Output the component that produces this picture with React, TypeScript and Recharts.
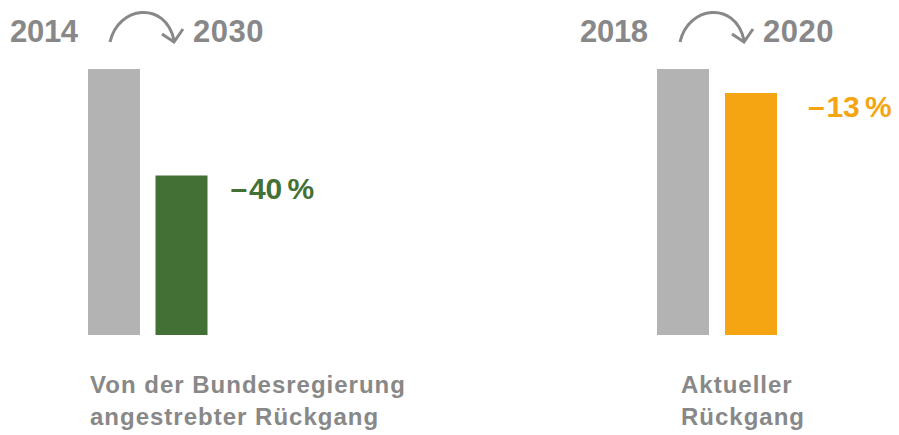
import React from "react";
import { Bar, BarChart, Cell, LabelList, XAxis, YAxis } from "recharts";

// Emissionsrückgang: Ausgangsjahr = 100
const leftYears = ["2014", "2030"];
const leftValues = [100, 60];
const leftChange = ["", "–\u200A40\u2009%"];

const rightYears = ["2018", "2020"];
const rightValues = [100, 91];
const rightChange = ["", "–\u200A13\u2009%"];

const GREY = "#b3b3b3";
const TEXT_GREY = "#888888";
const FONT = "'Liberation Sans', Arial, sans-serif";

function Group({
  years,
  values,
  change,
  color,
  left,
  width,
  labelOffset,
}: {
  years: string[];
  values: number[];
  change: string[];
  color: string;
  left: number;
  width: number;
  labelOffset: number;
}) {
  const rows = years.map((y, i) => ({ year: y, value: values[i], change: change[i] }));
  return (
    <div style={{ position: "absolute", left, top: 69 }}>
      <BarChart
        width={width + 130}
        height={266}
        data={rows}
        margin={{ top: 0, right: 130, bottom: 0, left: 0 }}
        barCategoryGap={8}
      >
        <XAxis dataKey="year" hide />
        <YAxis hide domain={[0, 100]} />
        <Bar dataKey="value" barSize={52} isAnimationActive={false}>
          {rows.map((_, i) => (
            <Cell key={i} fill={i === 0 ? GREY : color} />
          ))}
          <LabelList
            dataKey="change"
            content={(p: any) => {
              if (!p.value) return null;
              return (
                <text
                  x={Number(p.x) + Number(p.width) + labelOffset}
                  y={Number(p.y) + 24}
                  fill={color}
                  fontFamily={FONT}
                  fontWeight="bold"
                  fontSize={30}
                  letterSpacing={-0.3}
                >
                  {p.value}
                </text>
              );
            }}
          />
        </Bar>
      </BarChart>
    </div>
  );
}

function Header({ x, years }: { x: number; years: string[] }) {
  return (
    <g fill={TEXT_GREY} fontFamily={FONT} fontWeight="bold" fontSize={31}>
      <text x={x} y={42} letterSpacing={-0.3}>
        {years[0]}
      </text>
      <path
        d={`M${x + 100},42 C${x + 108},6 ${x + 155},0 ${x + 164},40`}
        fill="none"
        stroke={TEXT_GREY}
        strokeWidth={3}
      />
      <path
        d={`M${x + 152},34 L${x + 164},42 L${x + 173},29`}
        fill="none"
        stroke={TEXT_GREY}
        strokeWidth={3}
      />
      <text x={x + 183} y={42} letterSpacing={0.5}>
        {years[1]}
      </text>
    </g>
  );
}

export default function App() {
  return (
    <div
      style={{
        position: "fixed",
        left: 0,
        top: 0,
        width: 899,
        height: 435,
        background: "#fff",
        fontFamily: FONT,
      }}
    >
      <svg width={899} height={435} style={{ position: "absolute", left: 0, top: 0 }}>
        <Header x={10} years={leftYears} />
        <Header x={580} years={rightYears} />
        <g fill={TEXT_GREY} fontFamily={FONT} fontWeight="bold" fontSize={24} letterSpacing={1}>
          <text x={90} y={393}>Von der Bundesregierung</text>
          <text x={90} y={425}>angestrebter Rückgang</text>
          <text x={681} y={393}>Aktueller</text>
          <text x={681} y={425}>Rückgang</text>
        </g>
      </svg>
      <Group
        years={leftYears}
        values={leftValues}
        change={leftChange}
        color="#437135"
        left={80}
        width={135}
        labelOffset={23}
      />
      <Group
        years={rightYears}
        values={rightValues}
        change={rightChange}
        color="#f5a511"
        left={649}
        width={136}
        labelOffset={31}
      />
    </div>
  );
}
